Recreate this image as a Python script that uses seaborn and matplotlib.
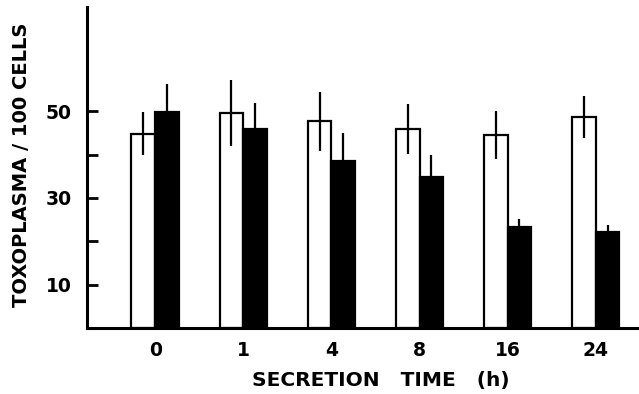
import numpy as np
import pandas as pd
import matplotlib
matplotlib.use("Agg")
import matplotlib.pyplot as plt
import seaborn as sns

# values
times = ["0", "1", "4", "8", "16", "24"]
control_mean = [44.8, 49.6, 47.7, 45.9, 44.5, 48.7]
control_err = [5.0, 7.7, 6.8, 5.7, 5.5, 4.8]
treated_mean = [49.8, 45.8, 38.6, 34.8, 23.2, 22.1]
treated_err = [6.5, 6.0, 6.4, 5.0, 2.0, 1.7]

df = pd.DataFrame({
    "time": times * 2,
    "value": control_mean + treated_mean,
    "group": ["control"] * len(times) + ["treated"] * len(times),
})

sns.set_style("white")
plt.rcParams["font.family"] = ["DejaVu Sans"]
plt.rcParams["font.weight"] = "bold"
plt.rcParams["text.color"] = "black"
plt.rcParams["axes.labelcolor"] = "black"
plt.rcParams["xtick.color"] = "black"
plt.rcParams["ytick.color"] = "black"

fig = plt.figure(figsize=(6.39, 3.94), dpi=100)
ax = fig.add_axes([0.136, 0.1675, 0.861, 0.8145])

sns.barplot(data=df, x="time", y="value", hue="group", order=times,
            palette={"control": "white", "treated": "black"},
            edgecolor="black", linewidth=1.6, width=0.54, gap=0,
            errorbar=None, legend=False, ax=ax)

# error bars at the bar centres
errs = control_err + treated_err
for patch, e in zip(ax.patches, errs):
    cx = patch.get_x() + patch.get_width() / 2
    ax.errorbar(cx, patch.get_height(), yerr=e, fmt="none",
                ecolor="black", elinewidth=1.6, capsize=0, zorder=5)

ax.set_ylim(0, 74)
ax.set_xlim(-0.776, 5.47)
ax.set_yticks([10, 30, 50])
ax.set_yticks([20, 40], minor=True)
ax.tick_params(axis="y", which="both", direction="in", length=8, width=2,
               labelsize=13.5, pad=11, left=True)
ax.tick_params(axis="x", length=0, labelsize=13.5, pad=9)

for s in ["top", "right"]:
    ax.spines[s].set_visible(False)
for s in ["left", "bottom"]:
    ax.spines[s].set_linewidth(2.2)
    ax.spines[s].set_color("black")

ax.set_xlabel("SECRETION   TIME   (h)", fontsize=14.5, fontweight="bold")
ax.xaxis.set_label_coords(0.535, -0.135)
ax.set_ylabel("TOXOPLASMA / 100 CELLS", fontsize=14, fontweight="bold")
ax.yaxis.set_label_coords(-0.102, 0.51)

fig.savefig("out.png", dpi=100)
